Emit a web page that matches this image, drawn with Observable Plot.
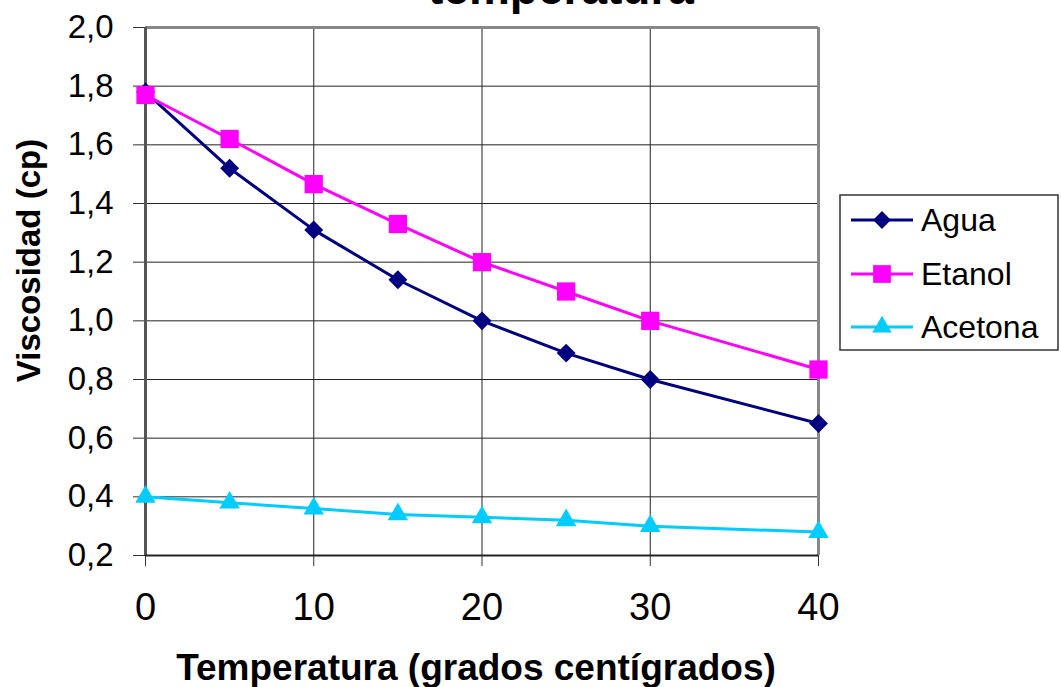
<!DOCTYPE html>
<html>
<head>
<meta charset="utf-8">
<script src="https://cdn.jsdelivr.net/npm/d3@7"></script>
<script src="https://cdn.jsdelivr.net/npm/@observablehq/plot@0.6"></script>
<style>
  html, body { margin: 0; padding: 0; background: white; }
  #chart { position: relative; width: 1061px; height: 687px; overflow: hidden; }
  svg { overflow: hidden; }
</style>
</head>
<body>
<div id="chart"></div>
<script>
// ---- data ----
const temps = [0, 5, 10, 15, 20, 25, 30, 40];
const agua = [1.78, 1.52, 1.31, 1.14, 1.00, 0.89, 0.80, 0.65];
const etanol = [1.77, 1.62, 1.466, 1.33, 1.20, 1.10, 1.00, 0.834];
const acetona = [0.40, 0.38, 0.36, 0.34, 0.33, 0.32, 0.30, 0.28];
const seriesNames = ["Agua", "Etanol", "Acetona"];
const xTicks = [0, 10, 20, 30, 40];
const yTicks = [0.2, 0.4, 0.6, 0.8, 1.0, 1.2, 1.4, 1.6, 1.8, 2.0];
const yTickLabels = ["0,2", "0,4", "0,6", "0,8", "1,0", "1,2", "1,4", "1,6", "1,8", "2,0"];
const titleText = "temperatura";
const xTitle = "Temperatura (grados centígrados)";
const yTitle = "Viscosidad (cp)";

// ---- styles ----
const colors = ["#000080", "#FF00FF", "#00CCFF"];
const symbols = ["diamond2", "square", "triangle"];
const radii = [8.5, 10.3, 7.6];
const seriesValues = [agua, etanol, acetona];
const font = "'Liberation Sans', Arial, sans-serif";

const yFmt = d => yTickLabels[yTicks.findIndex(t => Math.abs(t - d) < 1e-9)];

const seriesMarks = seriesValues.flatMap((vals, i) => [
  Plot.line(vals, {x: temps, y: vals, stroke: colors[i], strokeWidth: 3}),
  Plot.dot(vals, {x: temps, y: vals, symbol: symbols[i], fill: colors[i], stroke: "none", r: radii[i]})
]);

const chart = Plot.plot({
  width: 1061,
  height: 687,
  marginLeft: 145,
  marginRight: 243,
  marginTop: 27,
  marginBottom: 132,
  style: {fontFamily: font, background: "white", color: "black"},
  x: {domain: [0, 40]},
  y: {domain: [0.2, 2.0]},
  marks: [
    Plot.gridX(xTicks, {stroke: "#222", strokeOpacity: 1, strokeWidth: 1}),
    Plot.gridY(yTicks, {stroke: "#222", strokeOpacity: 1, strokeWidth: 1}),
    Plot.axisX(xTicks, {tickSize: 11, tickPadding: 27, fontSize: 38, label: null, stroke: "#333", fill: "black"}),
    Plot.axisY(yTicks, {tickSize: 12, tickPadding: 20, fontSize: 33, label: null, tickFormat: yFmt, stroke: "#333", fill: "black"}),
    Plot.ruleY([2.0], {stroke: "#888", strokeWidth: 3}),
    Plot.ruleX([40], {stroke: "#888", strokeWidth: 3}),
    Plot.ruleX([0], {stroke: "#555", strokeWidth: 3}),
    Plot.ruleY([0.2], {stroke: "#222", strokeWidth: 2}),
    ...seriesMarks,
    Plot.text([titleText], {frameAnchor: "top", dx: 79, dy: -38.5, fontSize: 46, fontWeight: "bold", lineAnchor: "middle", textAnchor: "middle", fill: "black"}),
    Plot.text([xTitle], {frameAnchor: "bottom", dx: -6, dy: 113, fontSize: 37, fontWeight: "bold", lineAnchor: "middle", textAnchor: "middle", fill: "black"}),
    Plot.text([yTitle], {frameAnchor: "left", dx: -116, dy: -31, rotate: -90, fontSize: 33, fontWeight: "bold", lineAnchor: "middle", textAnchor: "middle", fill: "black"})
  ]
});

document.getElementById("chart").appendChild(chart);

// ---- legend ----
const svg = d3.select(chart);
const lg = svg.append("g").attr("font-family", font).attr("text-anchor", "start");
lg.append("rect")
  .attr("x", 840).attr("y", 195).attr("width", 218).attr("height", 155)
  .attr("fill", "white").attr("stroke", "#333").attr("stroke-width", 1.5);
const rowY = [220, 274, 327];
const legendSymbols = [d3.symbolDiamond2, d3.symbolSquare, d3.symbolTriangle];
const legendSizes = [Math.PI * 8 * 8, Math.PI * 10 * 10, Math.PI * 7.2 * 7.2];
seriesNames.forEach((name, i) => {
  const y = rowY[i];
  lg.append("line").attr("x1", 851).attr("x2", 913).attr("y1", y).attr("y2", y)
    .attr("stroke", colors[i]).attr("stroke-width", 3);
  lg.append("path").attr("transform", `translate(882,${y})`)
    .attr("d", d3.symbol(legendSymbols[i], legendSizes[i])()).attr("fill", colors[i]);
  lg.append("text").attr("x", 921).attr("y", y).attr("dy", "0.35em")
    .attr("text-anchor", "start")
    .attr("font-size", 32).attr("fill", "black").text(name);
});
</script>
</body>
</html>
